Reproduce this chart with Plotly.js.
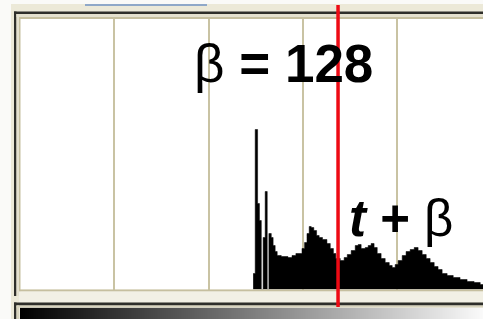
<!DOCTYPE html>
<html><head><meta charset="utf-8">
<script src="https://cdn.plot.ly/plotly-3.0.1.min.js"></script>
<style>html,body{margin:0;padding:0;overflow:hidden;background:#fff}</style>
</head><body><div id="chart" style="width:483px;height:319px"></div>
<script>
// ---- data (gray level -> histogram count) ----
const histLevel = [126.1,127.2,128.5,129.5,130.5,131.5,132.6,133.7,134.6,135.9,136.9,138.0,139.1,141.3,144.9,147.1,149.2,152.5,153.9,155.2,156.4,157.5,158.9,160.4,161.8,163.6,166.0,167.8,169.5,170.8,173.2,175.3,177.0,179.1,181.3,182.9,184.5,186.7,188.3,189.9,191.5,193.2,195.3,197.5,199.7,201.3,202.9,204.5,206.7,208.8,211.0,213.2,215.3,217.5,219.7,221.8,224.0,226.1,228.3,231.0,234.3,238.0,241.8,245.6,248.9,251];
const histCount = [16,160,86,69,0,52,98,0,56,52,44,38,34,33,32,34,36,41,47,56,63,62,59,54,52,50,46,41,36,31,29,32,35,39,44,45,41,42,44,46,42,36,31,27,24,22,25,29,34,38,40,42,39,35,31,27,23,20,16,14,12,10,8,7,5,5];
const gridStep = 51;
const grayRamp = [0, 255];
const thresholdLevel = 172;
const labelBeta = 'β<b> = 128</b>';
const labelSum = '<b><i>t</i> + </b>β';

const W = 483, H = 319;
function rectPx(x0, y0, x1, y1, color) {
  return {type:'rect', xref:'paper', yref:'paper', x0:x0/W, x1:x1/W, y0:1-y1/H, y1:1-y0/H,
          fillcolor:color, line:{width:0}, layer:'above'};
}
const beige = '#C6BF9F', dark = '#2E2E2A', cream = '#F2F0E5';

const traces = [
  {type:'scatter', x:histLevel, y:histCount, mode:'lines', line:{shape:'hv', color:'#000', width:0.5},
   fill:'tozeroy', fillcolor:'#000', hoverinfo:'skip', xaxis:'x', yaxis:'y'},
  {type:'heatmap', x:grayRamp, y:[0], z:[grayRamp], colorscale:[[0,'#000'],[1,'#fff']],
   zmin:0, zmax:255, zsmooth:'best', showscale:false, xaxis:'x2', yaxis:'y2', hoverinfo:'skip'}
];

const shapes = [
  rectPx(0, 0, 11, 319, '#FAFAF8'),
  rectPx(11, 0, 483, 4, '#FAFAF8'),
  rectPx(85, 4, 207, 6, '#8FA8C8'),
  // upper frame
  rectPx(14, 11.5, 483, 14, dark),
  rectPx(14, 11.5, 16.5, 296, dark),
  rectPx(16.5, 14, 483, 17, '#E4E0CE'),
  rectPx(16.5, 14, 19, 296, '#E4E0CE'),
  rectPx(19, 17, 483, 19, beige),
  rectPx(19, 17, 20.5, 291.5, beige),
  rectPx(19, 289.5, 483, 291.5, beige),
  rectPx(19, 291.5, 483, 302.5, cream),
  // gradient frame
  rectPx(14, 302.5, 483, 305.5, dark),
  rectPx(14, 302.5, 16.5, 319, dark),
  rectPx(16.5, 305.5, 483, 307.5, '#D8D4BE'),
  rectPx(16.5, 305.5, 19, 319, '#D8D4BE'),
  // threshold line
  {type:'line', xref:'x', yref:'paper', x0:thresholdLevel, x1:thresholdLevel, y0:1-307/H, y1:1-5/H,
   line:{color:'#EE0A14', width:3.5}, layer:'above'}
];

const layout = {
  width:W, height:H, margin:{l:0, r:0, t:0, b:0},
  paper_bgcolor:'#ECE9D8', plot_bgcolor:'#FFFFFF', showlegend:false,
  xaxis:{domain:[20/W, 1], range:[0, 250.4], tick0:0, dtick:gridStep, showgrid:true, gridcolor:'#C9C3A3',
         gridwidth:2, showticklabels:false, ticks:'', zeroline:false, showline:false, fixedrange:true, anchor:'y'},
  yaxis:{domain:[29.5/H, 300/H], range:[0, 270.5], showgrid:false, zeroline:false, showticklabels:false,
         ticks:'', showline:false, fixedrange:true, anchor:'x'},
  xaxis2:{domain:[20/W, 1], matches:'x', showgrid:false, showticklabels:false, ticks:'', zeroline:false, anchor:'y2'},
  yaxis2:{domain:[0, 11.5/H], range:[-0.5, 0.5], showgrid:false, showticklabels:false, ticks:'', zeroline:false, anchor:'x2'},
  shapes:shapes,
  annotations:[
    {text:labelBeta, xref:'paper', yref:'paper', x:192/W, y:1-64/H, xanchor:'left', yanchor:'middle',
     showarrow:false, font:{family:'Liberation Sans, Arial, sans-serif', size:53, color:'#000'}},
    {text:labelSum, xref:'paper', yref:'paper', x:347/W, y:1-218/H, xanchor:'left', yanchor:'middle',
     showarrow:false, font:{family:'Liberation Sans, Arial, sans-serif', size:51, color:'#000'}}
  ]
};
Plotly.newPlot('chart', traces, layout, {staticPlot:true, displayModeBar:false});
</script></body></html>
